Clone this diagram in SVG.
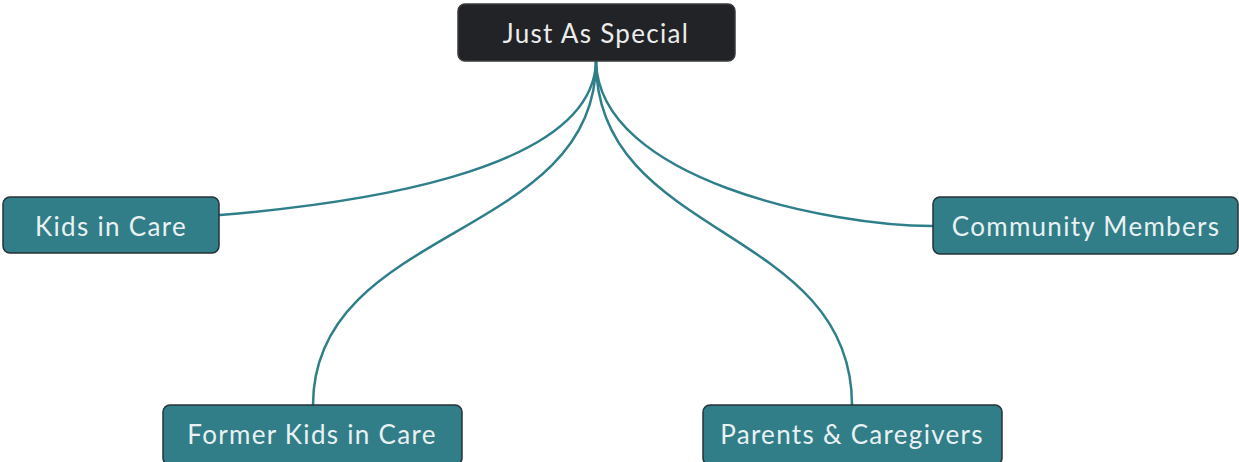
<svg xmlns="http://www.w3.org/2000/svg" width="1239" height="462" viewBox="0 0 1239 462">
  <style>
    .link { fill: none; stroke: #2f7f8a; stroke-width: 2.5; stroke-linecap: round; }
    .box { fill: #317d88; stroke: #263236; stroke-width: 1.5; }
    .root-box { fill: #222326; stroke: #3a3b3e; stroke-width: 1.5; }
    .label { font-family: Lato, "Open Sans", sans-serif; font-size: 26px; letter-spacing: 1.3px; fill: #e9f1f2; text-anchor: middle; dominant-baseline: central; }
    .root-label { fill: #ececec; }
  </style>
  <rect width="1239" height="462" fill="#ffffff"/>

  <!-- branches from the central topic -->
  <g id="connectors">
    <path class="link" d="M596,62 C592,175 340,205 220,215"/>
    <path class="link" d="M596,62 C600,180 830,226 933,226"/>
    <path class="link" d="M596,62 C596,240 313,225 313,405"/>
    <path class="link" d="M596,62 C596,240 852,225 852,405"/>
  </g>

  <g id="root">
    <rect class="root-box" x="458" y="4" width="277" height="57" rx="7"/>
    <text class="label root-label" x="596" y="33">Just As Special</text>
  </g>

  <g id="kids-in-care">
    <rect class="box" x="3" y="197" width="216" height="56" rx="7"/>
    <text class="label" x="111" y="226">Kids in Care</text>
  </g>

  <g id="community-members">
    <rect class="box" x="933" y="197" width="305" height="57" rx="7"/>
    <text class="label" x="1086" y="226">Community Members</text>
  </g>

  <g id="former-kids-in-care">
    <rect class="box" x="163" y="405" width="299" height="60" rx="7"/>
    <text class="label" x="312" y="434">Former Kids in Care</text>
  </g>

  <g id="parents-caregivers">
    <rect class="box" x="703" y="405" width="299" height="60" rx="7"/>
    <text class="label" x="852" y="434">Parents &amp; Caregivers</text>
  </g>
</svg>
